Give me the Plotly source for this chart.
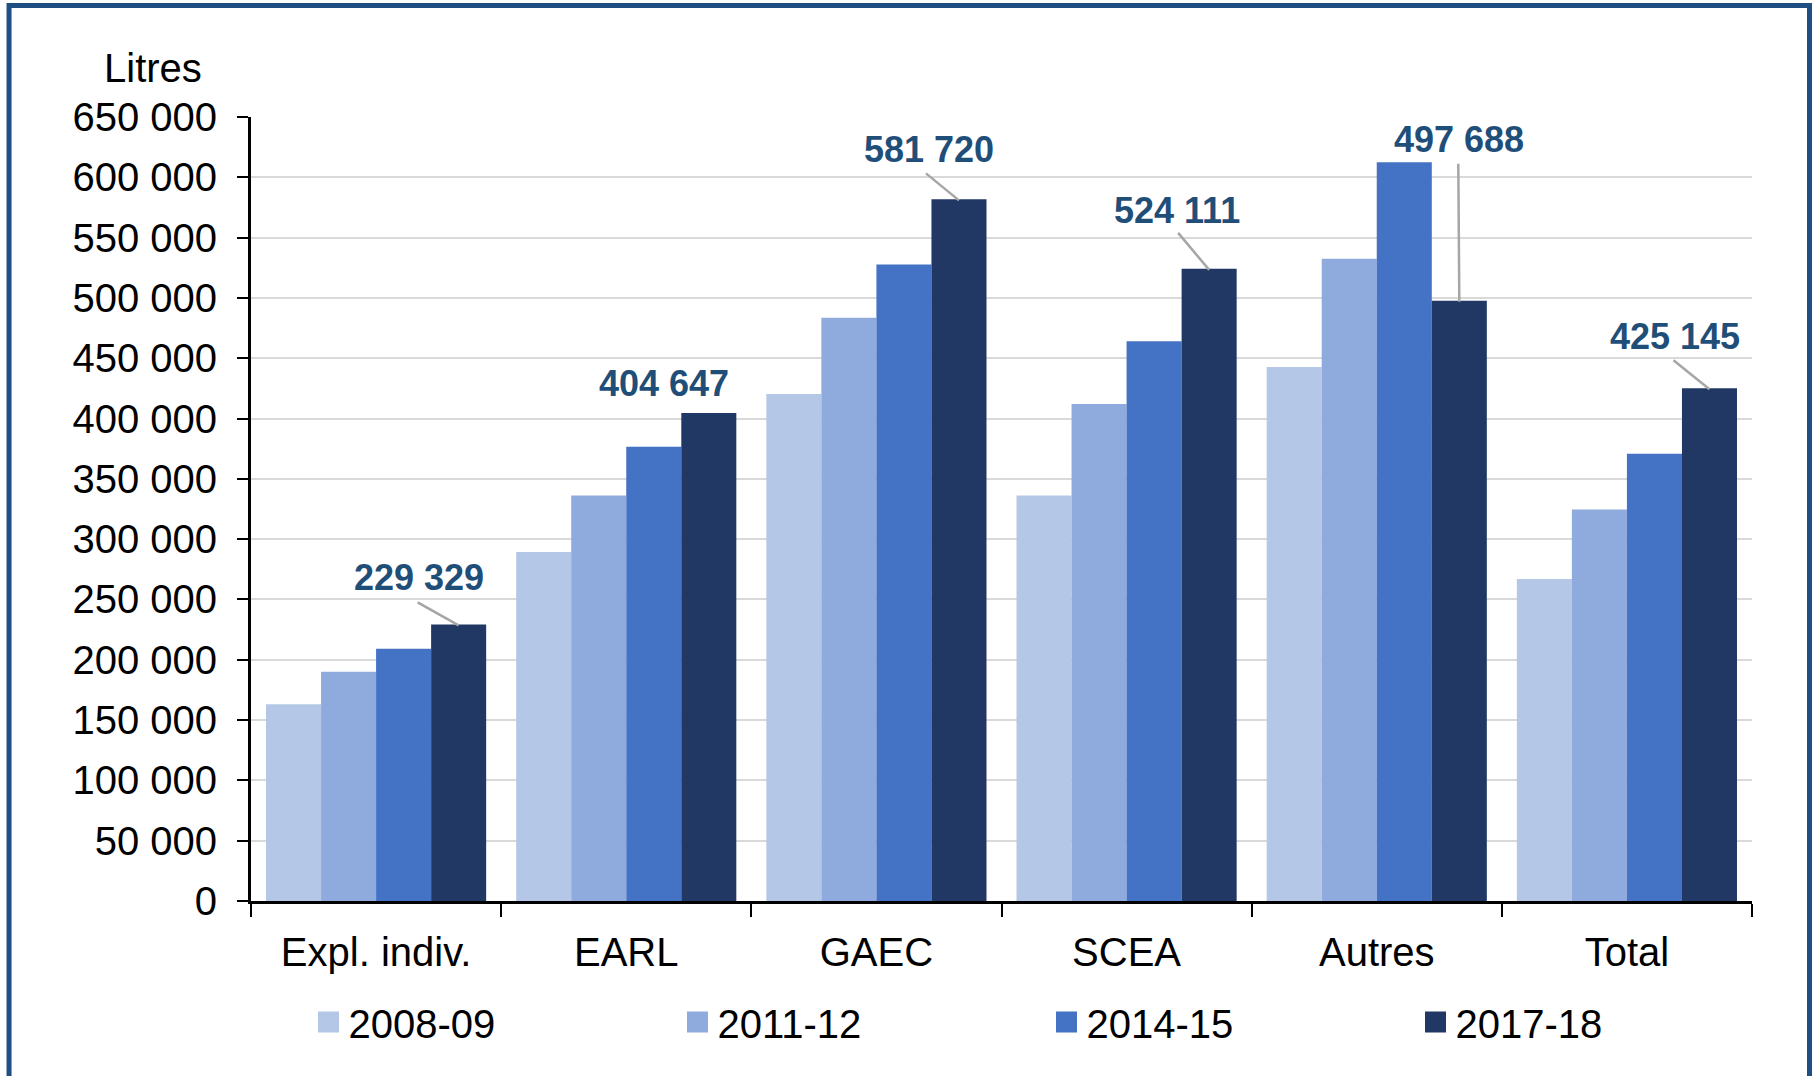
import plotly.graph_objects as go

# Average volume per farm, by legal form and campaign
categories = ["Expl. indiv.", "EARL", "GAEC", "SCEA", "Autres", "Total"]
campaigns = ["2008-09", "2011-12", "2014-15", "2017-18"]

vol_2008_09 = [163100, 289400, 420400, 336100, 442800, 267000]
vol_2011_12 = [190100, 336100, 483600, 412100, 532500, 324500]
vol_2014_15 = [209200, 376700, 527800, 464000, 612400, 370900]
vol_2017_18 = [229329, 404647, 581720, 524111, 497688, 425145]

y_ticks = list(range(0, 650001, 50000))

# Styling
colors = ["#B4C7E7", "#8FAADC", "#4472C4", "#213864"]
label_color = "#1F4E79"
leader_color = "#A6A6A6"
font_family = "Liberation Sans, Arial, sans-serif"

# Pixel offsets of the value labels (dx, dy up) and of the leader line start,
# relative to the top centre of the 2017-18 bar
label_offsets = [(-40, 47), (-45, 29), (-30, 50), (-32, 58), (0, 161), (-34, 52)]
leader_starts = [(-41, 22), None, (-33, 26), (-31, 36), (-1, 137), (-36, 28)]

series = [vol_2008_09, vol_2011_12, vol_2014_15, vol_2017_18]

fig = go.Figure()
for name, vals, col in zip(campaigns, series, colors):
    fig.add_trace(go.Bar(
        x=categories, y=vals, name=name,
        marker=dict(color=col, line=dict(width=0)),
        showlegend=False,
    ))

# Square legend keys
for name, col in zip(campaigns, colors):
    fig.add_trace(go.Scatter(
        x=[None], y=[None], mode="markers", name=name,
        marker=dict(symbol="square", size=16, color=col,
                    line=dict(color=col, width=5)),
        showlegend=True,
    ))

BARGAP = 0.12
n_series = len(series)
bar_w = (1 - BARGAP) / n_series
last_offset = -(1 - BARGAP) / 2 + bar_w * (n_series - 0.5)

annotations = []
shapes = []
for i, v in enumerate(vol_2017_18):
    xc = i + last_offset
    dx, dy = label_offsets[i]
    annotations.append(dict(
        x=xc, y=v, xref="x", yref="y",
        text="<b>" + f"{v:,}".replace(",", " ") + "</b>",
        showarrow=False, xshift=dx, yshift=dy,
        xanchor="center", yanchor="middle",
        font=dict(family=font_family, size=36, color=label_color),
    ))
    if leader_starts[i] is not None:
        sx, sy = leader_starts[i]
        shapes.append(dict(
            type="line", xref="x", yref="y",
            xsizemode="pixel", ysizemode="pixel",
            xanchor=xc, yanchor=v,
            x0=sx, y0=sy, x1=0, y1=-1,
            line=dict(color=leader_color, width=2.5),
        ))

# Unit label above the value axis
annotations.append(dict(
    x=-0.065, y=1.063, xref="paper", yref="paper",
    text="Litres", showarrow=False,
    xanchor="center", yanchor="middle",
    font=dict(family=font_family, size=40, color="#000000"),
))

# Outer frame
shapes.append(dict(
    type="rect", xref="paper", yref="paper",
    x0=-0.1612, x1=1.0383, y0=-0.3, y1=1.1422,
    line=dict(color="#1F4E82", width=5), fillcolor="rgba(0,0,0,0)",
    layer="above",
))

fig.update_layout(
    width=1812, height=1076,
    margin=dict(l=251, r=60, t=117, b=175, pad=0),
    paper_bgcolor="white", plot_bgcolor="white",
    barmode="group", bargap=BARGAP, bargroupgap=0,
    separators=", ",
    font=dict(family=font_family, size=40, color="#000000"),
    annotations=annotations,
    shapes=shapes,
    legend=dict(
        orientation="h",
        xref="container", yref="container",
        x=308.5 / 1812, y=1 - 1022 / 1076,
        xanchor="left", yanchor="middle",
        entrywidth=324, entrywidthmode="pixels",
        font=dict(family=font_family, size=40, color="#000000"),
        bgcolor="rgba(0,0,0,0)", borderwidth=0,
        itemclick=False,
    ),
)

fig.update_xaxes(
    type="category", categoryorder="array", categoryarray=categories,
    showline=True, linecolor="#000000", linewidth=3,
    ticks="outside", tickson="boundaries", ticklen=13, tickwidth=2,
    tickcolor="#000000", showgrid=False, ticklabelstandoff=14,
    tickfont=dict(family=font_family, size=40, color="#000000"),
)

fig.update_yaxes(
    range=[0, 650000], tickvals=y_ticks, tickformat=",d",
    showgrid=True, gridcolor="#D9D9D9", gridwidth=2,
    showline=True, linecolor="#000000", linewidth=3,
    ticks="outside", ticklen=11, tickwidth=2, tickcolor="#000000",
    zeroline=False, ticklabelstandoff=12,
    tickfont=dict(family=font_family, size=40, color="#000000"),
)

fig.write_html("out.html")
